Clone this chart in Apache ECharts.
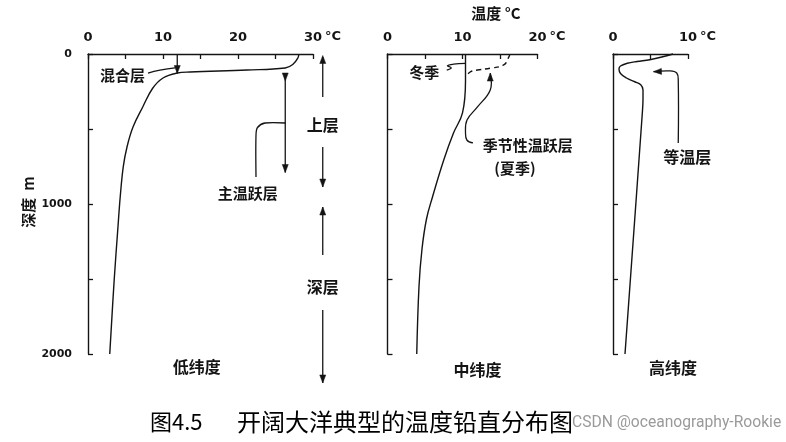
<!DOCTYPE html>
<html><head><meta charset="utf-8">
<script src="https://cdn.jsdelivr.net/npm/echarts@6/dist/echarts.min.js"></script>
<style>html,body{margin:0;padding:0;background:#fff}#c{width:786px;height:442px}</style>
</head><body><div id="c"></div>
<script>
// ---------- data (temperature °C vs depth m) ----------
const lowTemp   = [28.1, 28.0, 27.3, 26.3, 21.2, 13.6, 11.9, 10.0, 8.6, 7.3, 6.0, 5.2, 4.7, 4.3, 4.0, 3.5, 2.9];
const lowDepth  = [0, 25, 70, 93, 107, 120, 127, 160, 230, 353, 487, 620, 753, 950, 1150, 1500, 2000];

const midWinterTemp  = [10.4, 10.4, 10.0, 8.8, 7.5, 6.0, 5.2, 4.6, 4.2, 3.9];
const midWinterDepth = [0, 180, 393, 527, 707, 953, 1100, 1300, 1550, 2000];
const midSummerTemp  = [16.3, 16.2, 15.5, 13.7, 12.0, 11.1, 10.4];
const midSummerDepth = [0, 18, 73, 95, 107, 118, 150];

const highTemp  = [8.0, 6.5, 4.9, 3.2, 1.9, 1.0, 0.8, 1.0, 1.8, 2.9, 3.7, 4.0, 4.0, 3.9, 1.6];
const highDepth = [0, 20, 38, 50, 62, 80, 100, 130, 160, 185, 205, 240, 300, 400, 2000];

// tick labels
const depthLabels = [0, 1000, 2000];
const lowTempLabels = [0, 10, 20, 30];
const midTempLabels = [0, 10, 20];
const highTempLabels = [0, 10];
const panelNames = ['低纬度', '中纬度', '高纬度'];

const zip = (t, d) => t.map((v, i) => [v, d[i]]);

const INK = '#141414';
const NUM_FONT = 'DejaVu Sans';
const CJK = '"Noto Sans CJK SC"';

function xAx(g, max, labels) {
  return {
    gridIndex: g, type: 'value', position: 'top', min: 0, max: max, interval: 5,
    axisLine: {show: true, lineStyle: {color: INK, width: 1.4}},
    axisTick: {show: true, inside: true, length: 5, lineStyle: {color: INK, width: 1.3}},
    axisLabel: {show: true, margin: 10, color: INK, fontFamily: NUM_FONT, fontSize: 13, fontWeight: 'bold',
      formatter: v => labels.includes(v) ? String(v) : ''},
    splitLine: {show: false}
  };
}
function yAx(g, showLabels) {
  return {
    gridIndex: g, type: 'value', inverse: true, min: 0, max: 2000, interval: 500,
    axisLine: {show: true, lineStyle: {color: INK, width: 1.4}},
    axisTick: {show: true, inside: true, length: 5, lineStyle: {color: INK, width: 1.3}},
    axisLabel: {show: showLabels, margin: 16, color: INK, fontFamily: NUM_FONT, fontSize: 11, fontWeight: 'bold',
      formatter: v => depthLabels.includes(v) ? String(v) : ''},
    splitLine: {show: false}
  };
}
function curve(g, data, dashed) {
  return {
    type: 'line', xAxisIndex: g, yAxisIndex: g, data: data, showSymbol: false, symbol: 'none',
    smooth: 0.4, clip: false, silent: true,
    lineStyle: {color: INK, width: 1.4, type: dashed ? [5, 4] : 'solid'}
  };
}

const chart = echarts.init(document.getElementById('c'), null, {renderer: 'canvas'});
chart.setOption({
  backgroundColor: '#ffffff',
  animation: false,
  grid: [
    {left: 88, top: 54, width: 225, height: 300},
    {left: 387.5, top: 54, width: 150, height: 300},
    {left: 613, top: 54, width: 75, height: 300}
  ],
  xAxis: [xAx(0, 30, lowTempLabels), xAx(1, 20, midTempLabels), xAx(2, 10, highTempLabels)],
  yAxis: [yAx(0, true), yAx(1, false), yAx(2, false)],
  series: [
    curve(0, zip(lowTemp, lowDepth)),
    curve(1, zip(midWinterTemp, midWinterDepth)),
    curve(1, zip(midSummerTemp, midSummerDepth), true),
    curve(2, zip(highTemp, highDepth))
  ]
});

// ---------- annotations (in data units, converted to pixels) ----------
const P = (g, p) => chart.convertToPixel({gridIndex: g}, p);
const G = [];
function path(g, pts, smooth, dash) {
  G.push({type: 'polyline', silent: true, shape: {points: pts.map(p => P(g, p)), smooth: smooth || 0},
    style: {stroke: INK, lineWidth: 1.3, fill: null, lineDash: dash || null}});
}
function head(g, tip, from) {
  const a = P(g, tip), b = P(g, from);
  const dx = a[0] - b[0], dy = a[1] - b[1], L = Math.hypot(dx, dy) || 1;
  const ux = dx / L, uy = dy / L, len = 8, w = 3;
  const bx = a[0] - ux * len, by = a[1] - uy * len;
  G.push({type: 'polygon', silent: true, shape: {points: [a, [bx - uy * w, by + ux * w], [bx + uy * w, by - ux * w]]},
    style: {fill: INK, stroke: INK, lineWidth: 0.5}});
}
function label(g, p, text, size, weight) {
  const q = P(g, p);
  G.push({type: 'text', silent: true, x: q[0], y: q[1],
    style: {text: text, font: (weight || 'bold') + ' ' + (size || 15) + 'px ' + CJK, fill: INK, align: 'center', verticalAlign: 'middle'}});
}

// low latitude
path(0, [[11.9, 0], [11.9, 130]]); head(0, [11.9, 130], [11.9, 60]);
path(0, [[8.0, 127], [9.6, 108], [11.6, 92]], 0.5);
label(0, [4.6, 140], '混合层', 15);
path(0, [[26.3, 127], [26.3, 790]]); head(0, [26.3, 180], [26.3, 120]); head(0, [26.3, 790], [26.3, 700]);
path(0, [[26.3, 460], [23.6, 460], [22.6, 490], [22.4, 540], [22.4, 820]], 0.3);
label(0, [21.3, 927], '主温跃层', 15);
path(0, [[31.3, 20], [31.3, 287]]); head(0, [31.3, 10], [31.3, 80]);
label(0, [31.3, 473], '上层', 16);
path(0, [[31.3, 620], [31.3, 887]]); head(0, [31.3, 887], [31.3, 800]);
path(0, [[31.3, 1020], [31.3, 1340]]); head(0, [31.3, 1020], [31.3, 1100]);
label(0, [31.3, 1553], '深层', 16);
path(0, [[31.3, 1707], [31.3, 2193]]); head(0, [31.3, 2193], [31.3, 2100]);

// mid latitude
path(1, [[7.9, 107], [8.5, 92], [8.0, 78], [8.8, 68], [10.4, 62]], 0.4);
label(1, [4.9, 120], '冬季', 15);
head(1, [13.7, 127], [13.7, 200]);
path(1, [[13.7, 127], [13.7, 240], [12.0, 353], [10.6, 440], [10.4, 527], [10.6, 575], [11.4, 593]], 0.4);
label(1, [18.7, 607], '季节性温跃层', 15);
label(1, [17.0, 760], '(夏季)', 15);

// high latitude
head(2, [5.4, 118], [7.0, 115]);
path(2, [[5.4, 118], [7.6, 113], [8.5, 127], [8.7, 175], [8.7, 593]], 0.4);
label(2, [9.9, 687], '等温层', 16);

// panel names under each plot
label(0, [14.5, 2087], panelNames[0], 16);
label(1, [12.0, 2107], panelNames[1], 16);
label(2, [8.0, 2093], panelNames[2], 16);

// unit after max tick label
function unit(g, maxT) {
  const q = P(g, [maxT, 0]);
  G.push({type: 'text', silent: true, x: q[0] + 12, y: q[1] - 17,
    style: {text: '°C', font: 'bold 13px ' + NUM_FONT, fill: INK, align: 'left', verticalAlign: 'middle'}});
}
unit(0, 30); unit(1, 20); unit(2, 10);

// axis title and figure caption
G.push({type: 'text', silent: true, x: 496, y: 13,
  style: {text: '温度 °C', font: 'bold 15px ' + CJK, fill: INK, align: 'center', verticalAlign: 'middle'}});
G.push({type: 'text', silent: true, x: 28, y: 202, rotation: Math.PI / 2,
  style: {text: '深度  m', font: 'bold 15px ' + CJK, fill: INK, align: 'center', verticalAlign: 'middle'}});
G.push({type: 'text', silent: true, x: 150, y: 422,
  style: {text: '图4.5', font: '22px ' + CJK, fill: '#000', align: 'left', verticalAlign: 'middle'}});
G.push({type: 'text', silent: true, x: 237, y: 422,
  style: {text: '开阔大洋典型的温度铅直分布图', font: '24px ' + CJK, fill: '#000', align: 'left', verticalAlign: 'middle'}});
G.push({type: 'text', silent: true, x: 572, y: 423, scaleX: 0.92,
  style: {text: 'CSDN @oceanography-Rookie', font: '17px Roboto', fill: '#9a9a9a', align: 'left', verticalAlign: 'middle'}});

chart.setOption({graphic: G});
</script></body></html>
